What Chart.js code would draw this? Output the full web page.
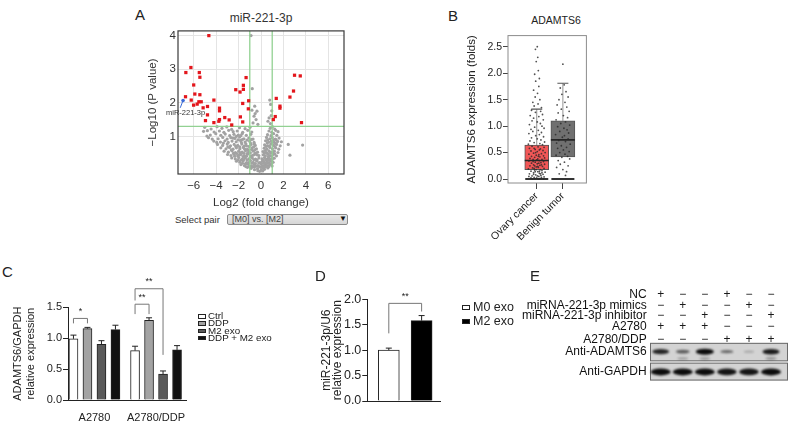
<!DOCTYPE html>
<html>
<head>
<meta charset="utf-8">
<script src="https://cdn.jsdelivr.net/npm/chart.js@4.4.1/dist/chart.umd.min.js"></script>
<style>
  html, body { margin: 0; padding: 0; background: #fff; }
  body { width: 790px; height: 422px; position: relative; overflow: hidden;
         font-family: "Liberation Sans", Arial, Helvetica, sans-serif; color: #222; }
  .t { position: absolute; white-space: nowrap; line-height: 1; }
  .key { position: absolute; border: 1px solid #222; box-sizing: border-box; }
</style>
</head>
<body>
<script>
// ---------- A: volcano plot ----------
const volcanoSig = [[-4.65,4.0],[-6.25,3.05],[-6.7,2.9],[-5.5,2.9],[-5.45,2.76],[-6.0,2.53],
  [-1.33,2.75],[-1.57,2.52],[-1.57,2.4],[-2.25,2.39],[-1.87,2.32],[-6.73,2.18],[-5.9,2.26],
  [-5.45,2.24],[-4.2,2.08],[-6.22,2.08],[-5.54,2.03],[-5.33,2.03],[-5.69,1.96],[-6.01,1.93],
  [-5.16,1.85],[-4.77,1.89],[-3.7,1.84],[-3.7,1.76],[-1.1,2.06],[-1.63,1.98],[-1.13,1.82],
  [-4.77,1.64],[-1.84,1.58],[-3.23,1.56],[-4.95,1.47],[-3.7,1.5],[-2.84,1.49],[-4.2,1.41],
  [-3.76,1.45],[-2.61,1.34],[-1.63,1.43],
  [2.99,2.82],[3.5,2.8],[2.9,2.35],[2.58,2.17],[1.36,2.13],[1.69,1.9],[1.69,1.84],
  [1.27,1.59],[1.1,1.5],[3.61,1.41]];
const volcanoNs = [
  [-5.02,1.27],[-4.45,1.22],[-3.92,1.29],[-3.48,1.24],[-3.05,1.28],[-2.62,1.21],[-1.92,1.26],[-1.42,1.23],[-0.98,1.27],[0.82,1.24],[1.02,1.29],[1.22,1.22],
  [-4.78,1.17],[-4.18,1.13],[-3.71,1.16],[-3.31,1.12],[-2.88,1.18],[-2.48,1.14],[-2.12,1.16],[-1.63,1.12],[-1.18,1.18],[-0.82,1.13],[0.71,1.16],[0.96,1.12],[1.31,1.18],[1.52,1.14],
  [-4.52,1.04],[-4.03,1.08],[-3.58,1.03],[-3.19,1.07],[-2.79,1.02],[-2.41,1.06],[-2.02,1.04],[-1.68,1.08],[-1.31,1.03],[-0.91,1.06],[0.58,1.05],[0.89,1.02],[1.12,1.08],[1.41,1.03],
  [-4.68,0.96],[-3.82,0.93],[-3.41,0.97],[-3.02,0.92],[-2.69,0.96],[-2.33,0.94],[-1.91,0.98],[-1.52,0.93],[-1.09,0.95],[-0.71,0.92],[0.49,0.97],[0.79,0.93],[1.01,0.96],[1.28,0.92],[1.61,0.95],
  [-4.21,0.86],[-3.62,0.83],[-3.21,0.87],[-2.92,0.82],[-2.58,0.86],[-2.21,0.84],[-1.83,0.88],[-1.42,0.83],[-1.02,0.86],[-0.62,0.82],[0.41,0.87],[0.68,0.83],[0.92,0.86],[1.19,0.82],[1.48,0.85],[1.82,0.84],
  [-3.88,0.76],[-3.42,0.73],[-3.01,0.77],[-2.72,0.72],[-2.39,0.76],[-2.08,0.73],[-1.71,0.77],[-1.29,0.72],[-0.88,0.76],[-0.51,0.73],[0.32,0.75],[0.61,0.72],[0.88,0.77],[1.12,0.73],[1.39,0.76],[1.71,0.72],[2.43,0.76],[3.71,0.74],
  [-3.58,0.66],[-3.12,0.63],[-2.81,0.67],[-2.49,0.62],[-2.19,0.66],[-1.88,0.63],[-1.58,0.67],[-1.21,0.62],[-0.79,0.66],[-0.41,0.63],[0.28,0.65],[0.52,0.62],[0.79,0.67],[1.02,0.63],[1.31,0.66],[1.58,0.62],
  [-3.29,0.56],[-2.91,0.53],[-2.59,0.57],[-2.28,0.52],[-1.99,0.56],[-1.69,0.53],[-1.38,0.57],[-1.09,0.52],[-0.69,0.56],[-0.31,0.53],[0.18,0.55],[0.48,0.52],[0.71,0.57],[0.92,0.53],[1.19,0.56],[1.51,0.52],
  [-2.98,0.46],[-2.68,0.43],[-2.39,0.47],[-2.08,0.42],[-1.79,0.46],[-1.49,0.43],[-1.19,0.47],[-0.88,0.42],[-0.58,0.46],[-0.19,0.43],[0.21,0.45],[0.39,0.42],[0.62,0.47],[0.81,0.43],[1.09,0.46],[1.38,0.42],[2.58,0.44],
  [-2.61,0.36],[-2.29,0.33],[-1.98,0.37],[-1.69,0.32],[-1.39,0.36],[-1.08,0.33],[-0.79,0.37],[-0.49,0.32],[-0.18,0.36],[0.09,0.33],[0.31,0.37],[0.52,0.32],[0.69,0.36],[0.91,0.33],[1.18,0.35],
  [-2.19,0.26],[-1.88,0.23],[-1.59,0.27],[-1.28,0.22],[-0.98,0.26],[-0.69,0.23],[-0.39,0.27],[-0.09,0.22],[0.12,0.26],[0.29,0.23],[0.51,0.27],[0.68,0.22],[0.89,0.26],[1.08,0.23],
  [-1.79,0.16],[-1.48,0.13],[-1.19,0.17],[-0.89,0.12],[-0.61,0.16],[-0.29,0.13],[0.01,0.17],[0.19,0.12],[0.41,0.16],[0.59,0.13],[0.79,0.16],[0.99,0.12],
  [-1.21,0.08],[-0.88,0.05],[-0.59,0.09],[-0.31,0.04],[-0.02,0.08],[0.21,0.05],[0.39,0.09],[0.61,0.06],
  [-0.58,0.01],[-0.28,-0.02],[0.02,0.0],[0.31,0.02],[-0.12,-0.04],[0.15,-0.03],
  [-2.05,0.9],[-1.65,0.91],[-1.25,0.89],[-0.85,0.91],[0.6,0.9],[1.1,0.89],[1.35,0.9],
  [-2.25,0.7],[-1.9,0.69],[-1.5,0.71],[-1.05,0.7],[-0.65,0.69],[0.45,0.7],[0.75,0.71],[1.25,0.69],
  [-2.45,0.5],[-2.15,0.49],[-1.85,0.51],[-1.55,0.5],[-1.25,0.49],[-0.95,0.51],[-0.5,0.5],[0.3,0.5],[0.6,0.49],[0.85,0.51],[1.05,0.5],
  [-2.05,0.3],[-1.8,0.29],[-1.55,0.31],[-1.25,0.3],[-0.95,0.29],[-0.65,0.31],[-0.35,0.3],[0.2,0.29],[0.42,0.31],[0.62,0.3],[0.8,0.29],[1.0,0.31],
  [-1.65,0.2],[-1.38,0.19],[-1.1,0.21],[-0.8,0.2],[-0.5,0.19],[-0.2,0.21],[0.05,0.2],[0.3,0.19],[0.52,0.21],[0.72,0.2],[0.95,0.19],
  [-1.35,0.1],[-1.05,0.11],[-0.75,0.1],[-0.45,0.11],[-0.15,0.1],[0.1,0.11],[0.3,0.1],[0.5,0.11],[0.7,0.1],
  [-3.35,0.8],[-2.95,0.69],[-2.65,0.6],[-2.35,0.41],[-1.95,0.44],[-1.6,0.4],[-1.3,0.41],[-0.95,0.39],[-0.7,0.44],
  [-1.45,0.62],[-1.15,0.58],[-0.85,0.61],[-0.55,0.6],[-0.35,0.45],[0.38,0.58],[0.65,0.4],[0.95,0.41],[1.22,0.48],
  [-1.75,0.82],[-1.35,0.78],[-0.95,0.81],[-0.6,0.78],[0.55,0.8],[0.98,0.82],[1.3,0.79],[-2.5,0.95],[-2.2,1.0],[-1.8,1.02],
  [-0.89,4.0],[-0.78,2.42],[0.78,2.08],[0.86,1.95],[-0.56,1.9],[-0.36,1.75],[-0.62,1.6],[-0.44,1.5],
  [-0.71,1.4],[0.62,1.45],[0.91,1.62],[-0.28,1.36],[0.96,1.76],[0.72,1.55],[-0.81,1.78],[-0.52,1.68],[0.84,1.38],
  [-5.12,1.15],[-4.82,1.01],[-4.35,0.92],[-3.95,0.82]];
const volcanoHighlight = [[-6.95, 2.07]];
const volcanoPointer = [[-7.2, 1.85], [-6.95, 2.07]];
const foldCutoffs = [-1, 1];
const pCutoff = 1.3;
const volcanoXTicks = [-6, -4, -2, 0, 2, 4, 6];
const volcanoYTicks = [1, 2, 3, 4];

// ---------- B: box plot ----------
const boxGroups = ['Ovary cancer', 'Benign tumor'];
const boxQ1 = [0.18, 0.42];
const boxMedian = [0.35, 0.74];
const boxQ3 = [0.64, 1.10];
const boxLow = [0, 0];
const boxHigh = [1.32, 1.81];
const boxYTicks = [0, 0.5, 1.0, 1.5, 2.0, 2.5];
const ovaryPoints = [[0.02,2.5],[-0.05,2.45],[0.04,2.3],[-0.02,2.22],[0.06,2.05],[-0.08,1.98],[0.1,1.9],[-0.04,1.85],
  [0.08,1.75],[-0.12,1.68],[0.03,1.62],[-0.06,1.55],[0.12,1.5],[-0.15,1.45],[0.05,1.42],[-0.1,1.38],[0.18,1.35],
  [-0.2,1.3],[0.15,1.28],[-0.05,1.26],[0.22,1.22],[-0.25,1.2],[0.08,1.18],[-0.12,1.15],[0.25,1.12],[-0.18,1.1],
  [0.02,1.08],[0.14,1.05],[-0.28,1.03],[0.2,1.0],[-0.08,0.98],[0.28,0.96],[-0.22,0.94],[0.06,0.92],[-0.15,0.9],
  [0.18,0.88],[-0.3,0.86],[0.1,0.84],[-0.04,0.82],[0.26,0.8],[-0.2,0.78],[0.02,0.76],[0.16,0.74],[-0.26,0.72],
  [0.3,0.7],[-0.1,0.69],[0.12,0.67],[-0.32,0.66],[0.22,0.65],
  [-0.18,0.62],[0.05,0.61],[0.28,0.6],[-0.28,0.58],[0.14,0.57],[-0.06,0.56],[0.24,0.54],[-0.22,0.53],[0.02,0.52],
  [0.32,0.5],[-0.12,0.49],[0.18,0.48],[-0.3,0.47],[0.08,0.46],[-0.02,0.45],[0.26,0.44],[-0.2,0.43],[0.12,0.42],
  [-0.08,0.41],[0.3,0.4],[-0.26,0.39],[0.04,0.38],[0.2,0.37],[-0.14,0.37],
  [0.1,0.35],[-0.3,0.34],[0.26,0.33],[-0.06,0.32],[0.16,0.31],[-0.2,0.3],[0.02,0.29],[0.3,0.28],[-0.12,0.27],
  [0.12,0.26],[-0.26,0.25],[0.22,0.24],[-0.02,0.23],[0.06,0.22],[-0.16,0.21],[0.28,0.2],[-0.32,0.19],[0.14,0.18],
  [-0.08,0.17],[0.2,0.16],[-0.22,0.15],[0.04,0.14],[0.32,0.13],[-0.12,0.12],[0.1,0.11],[-0.28,0.1],[0.24,0.09],
  [-0.04,0.08],[0.16,0.07],[-0.18,0.06],[0.08,0.05],[-0.3,0.05],[0.28,0.04],[-0.1,0.03],[0.18,0.03],[0.0,0.02],
  [-0.22,0.02],[0.12,0.01],[-0.06,0.01],[0.26,0.0],[-0.16,0.0],[0.06,0.0],
  [-0.1,0.58],[0.1,0.55],[-0.04,0.5],[0.06,0.43],[-0.14,0.33],[0.0,0.36],[0.08,0.3],[-0.08,0.25],[0.18,0.27],
  [-0.02,0.18],[0.1,0.15],[-0.12,0.09],[0.02,0.06],[0.14,0.1],[-0.06,0.14],[0.04,0.24],[-0.1,0.2],[0.2,0.12]];
const benignPoints = [[0.0,2.17],[0.05,1.78],[-0.1,1.72],[0.12,1.65],[-0.04,1.6],[0.2,1.55],[-0.15,1.5],[0.08,1.45],
  [-0.22,1.4],[0.15,1.36],[-0.06,1.32],[0.24,1.28],[-0.18,1.25],[0.02,1.2],[0.18,1.16],[-0.26,1.12],[0.1,1.08],
  [-0.08,1.05],[0.26,1.02],[-0.2,0.99],[0.04,0.96],[0.16,0.93],[-0.12,0.9],[0.22,0.87],[-0.28,0.84],[0.06,0.82],
  [-0.02,0.79],[0.2,0.76],[-0.16,0.73],[0.1,0.71],[-0.24,0.68],[0.28,0.66],[-0.06,0.63],[0.14,0.6],[-0.2,0.58],
  [0.02,0.55],[0.24,0.52],[-0.12,0.5],[0.08,0.47],[-0.26,0.45],[0.18,0.43],[-0.04,0.41],[0.26,0.38],[-0.18,0.35],
  [0.06,0.32],[-0.1,0.28],[0.2,0.25],[-0.24,0.22],[0.0,0.18],[0.14,0.14],[-0.14,0.1],[0.1,0.07]];

// ---------- C: ADAMTS6 bars ----------
const cGroups = ['A2780', 'A2780/DDP'];
const cSeries = ['Ctrl', 'DDP', 'M2 exo', 'DDP + M2 exo'];
const cCtrl = [0.99, 0.80];
const cDDP = [1.155, 1.29];
const cM2 = [0.90, 0.42];
const cDDPM2 = [1.14, 0.81];
const cCtrlErr = [0.06, 0.07];
const cDDPErr = [0.02, 0.04];
const cM2Err = [0.06, 0.05];
const cDDPM2Err = [0.07, 0.07];
const cYTicks = [0, 0.5, 1.0, 1.5];
// [series, group] pairs, bracket top, leg ends, label
const cBrackets = [
  { a: [0, 0], b: [1, 0], top: 1.32, legA: 1.24, legB: 1.24, label: '*' },
  { a: [0, 1], b: [1, 1], top: 1.55, legA: 1.39, legB: 1.39, label: '**' },
  { a: [0, 1], b: [2, 1], top: 1.80, legA: 1.61, legB: 0.73, label: '**' }
];

// ---------- D: miR-221-3p bars ----------
const dGroups = ['M0 exo', 'M2 exo'];
const dValues = [1.0, 1.58];
const dErr = [0.04, 0.1];
const dYTicks = [0, 0.5, 1.0, 1.5, 2.0];
const dBracket = { top: 1.92, legA: 1.33, legB: 1.76, label: '**' };

// ---------- E: western blot ----------
const eRows = ['NC', 'miRNA-221-3p mimics', 'miRNA-221-3p inhibitor', 'A2780', 'A2780/DDP'];
const eNC        = ['+', '−', '−', '+', '−', '−'];
const eMimics    = ['−', '+', '−', '−', '+', '−'];
const eInhibitor = ['−', '−', '+', '−', '−', '+'];
const eA2780     = ['+', '+', '+', '−', '−', '−'];
const eA2780DDP  = ['−', '−', '−', '+', '+', '+'];
const eBlots = ['Anti-ADAMTS6', 'Anti-GAPDH'];
const adamts6Band = [0.85, 0.5, 1.0, 0.42, 0.1, 0.9];
const adamts6Lower = [0.0, 0.15, 0.18, 0.0, 0.0, 0.2];
const gapdhBand = [1.0, 1.0, 1.0, 0.95, 0.95, 1.0];

// ---------- common ----------
Chart.defaults.font.family = '"Liberation Sans", Arial, Helvetica, sans-serif';
Chart.defaults.color = '#222';
Chart.defaults.animation = false;
Chart.defaults.events = [];
Chart.defaults.plugins.legend.display = false;
Chart.defaults.plugins.tooltip.enabled = false;

function mount(left, top, w, h) {
  const c = document.createElement('canvas');
  c.width = w; c.height = h;
  c.style.cssText = `position:absolute;left:${left}px;top:${top}px;width:${w}px;height:${h}px`;
  document.body.appendChild(c);
  return c;
}
function text(str, left, top, size, css) {
  const d = document.createElement('div');
  d.className = 't';
  d.textContent = str;
  d.style.cssText = `left:${left}px;top:${top}px;font-size:${size}px;` + (css || '');
  document.body.appendChild(d);
  return d;
}
function frame(color, width) {
  return {
    id: 'frame',
    afterDatasetsDraw(chart) {
      const { ctx, chartArea: a } = chart;
      ctx.save();
      ctx.strokeStyle = color; ctx.lineWidth = width;
      ctx.strokeRect(a.left, a.top, a.right - a.left, a.bottom - a.top);
      ctx.restore();
    }
  };
}
const errorBars = {
  id: 'errorBars',
  afterDatasetsDraw(chart) {
    const { ctx } = chart; const ys = chart.scales.y;
    ctx.save(); ctx.strokeStyle = '#222'; ctx.lineWidth = 1;
    chart.data.datasets.forEach((ds, i) => {
      if (!ds.errors) return;
      chart.getDatasetMeta(i).data.forEach((bar, j) => {
        const top = ys.getPixelForValue(ds.data[j].y + ds.errors[j]);
        ctx.beginPath();
        ctx.moveTo(bar.x, bar.y); ctx.lineTo(bar.x, top);
        ctx.moveTo(bar.x - 3, top); ctx.lineTo(bar.x + 3, top);
        ctx.stroke();
      });
    });
    ctx.restore();
  }
};
function brackets(items, starSize) {
  return {
    id: 'brackets',
    afterDatasetsDraw(chart) {
      const { ctx } = chart; const ys = chart.scales.y;
      ctx.save();
      ctx.strokeStyle = '#777'; ctx.lineWidth = 1;
      ctx.fillStyle = '#222'; ctx.font = `${starSize}px "Liberation Sans", Arial`;
      ctx.textAlign = 'center'; ctx.textBaseline = 'middle';
      items.forEach(b => {
        const xa = chart.getDatasetMeta(b.a[0]).data[b.a[1]].x;
        const xb = chart.getDatasetMeta(b.b[0]).data[b.b[1]].x;
        const yt = ys.getPixelForValue(b.top);
        ctx.beginPath();
        ctx.moveTo(xa, ys.getPixelForValue(b.legA));
        ctx.lineTo(xa, yt); ctx.lineTo(xb, yt);
        ctx.lineTo(xb, ys.getPixelForValue(b.legB));
        ctx.stroke();
        ctx.fillText(b.label, (xa + xb) / 2, yt - 7);
      });
      ctx.restore();
    }
  };
}
const pts = arr => arr.map(([x, y]) => ({ x, y }));
const fixedTicks = vals => scale => { scale.ticks = vals.map(v => ({ value: v })); };

// ================= A =================
text('A', 135, 7, 15);
text('miR-221-3p', 211, 12.4, 12, 'width:100px;text-align:center;color:#333;');
new Chart(mount(130, 22, 222, 190), {
  type: 'scatter',
  data: {
    datasets: [
      { data: pts(volcanoSig), pointStyle: 'rect', pointRadius: 2.3, backgroundColor: '#e3161c', borderWidth: 0 },
      { data: pts(volcanoHighlight), pointRadius: 1.8, backgroundColor: '#3a6bd8', borderWidth: 0 },
      { data: pts(volcanoPointer), showLine: true, borderColor: '#3a6bd8', borderWidth: 1, pointRadius: 0 },
      ...foldCutoffs.map(v => ({ data: [{ x: v, y: -1 }, { x: v, y: 5 }], showLine: true,
        borderColor: '#92d192', borderWidth: 1.3, pointRadius: 0 })),
      { data: [{ x: -8, y: pCutoff }, { x: 8, y: pCutoff }], showLine: true,
        borderColor: '#92d192', borderWidth: 1.3, pointRadius: 0 },
      { data: pts(volcanoNs), pointRadius: 1.6, backgroundColor: '#a2a2a2', borderWidth: 0 }
    ]
  },
  options: {
    responsive: false,
    layout: { padding: { top: 7, right: 8, left: 0, bottom: 0 } },
    scales: {
      x: {
        type: 'linear', min: -7.4, max: 7.4,
        afterBuildTicks: fixedTicks(volcanoXTicks),
        ticks: { autoSkip: false, padding: 5, color: '#333', font: { size: 11.5 },
                 callback: v => String(v).replace('-', '−') },
        grid: { color: '#e4e4e4', drawTicks: false },
        border: { display: false },
        title: { display: true, text: 'Log2 (fold change)', color: '#333', font: { size: 11.5 },
                 padding: { top: 0, bottom: 2.5 } },
        afterFit: s => { s.height = 38; }
      },
      y: {
        type: 'linear', min: -0.12, max: 4.14,
        afterBuildTicks: fixedTicks(volcanoYTicks),
        ticks: { autoSkip: false, padding: 2, color: '#333', font: { size: 11.5 } },
        grid: { color: '#e4e4e4', drawTicks: false },
        border: { display: false },
        title: { display: true, text: '−Log10 (P value)', color: '#333', font: { size: 11.5 },
                 padding: { top: 15.5, bottom: 0 } },
        afterFit: s => { s.width = 48; }
      }
    }
  },
  plugins: [frame('#3a3a3a', 1.2)]
});
text('miR-221-3p', 166, 108.5, 7.5, 'color:#333;');
text('Select pair', 175, 214.5, 9.5, 'color:#333;');
(function () {
  const d = document.createElement('div');
  d.style.cssText = 'position:absolute;left:227px;top:213.5px;width:121px;height:11px;box-sizing:border-box;' +
    'border:1px solid #8a8a8a;border-radius:2px;background:linear-gradient(#e8e8e8,#d6d6d6);';
  document.body.appendChild(d);
})();
text('[M0] vs. [M2]', 232, 214.8, 9, 'color:#444;');
text('▼', 339, 215, 8, 'color:#111;');

// ================= B =================
text('B', 448, 8, 15);
text('ADAMTS6', 506, 14.9, 10.5, 'width:100px;text-align:center;');
new Chart(mount(440, 22, 160, 236), {
  type: 'scatter',
  data: {
    datasets: [
      { data: [...ovaryPoints.map(([dx, y]) => ({ x: 0 + dx, y })), ...benignPoints.map(([dx, y]) => ({ x: 1 + dx, y }))],
        pointRadius: 0.9, backgroundColor: 'rgba(40,40,40,0.8)', borderWidth: 0 },
      { data: boxGroups.map((g, i) => ({ x: i, y: boxMedian[i] })), pointStyle: 'line', pointRadius: 12,
        pointBorderColor: '#262626', pointBorderWidth: 1.6 },
      { data: boxGroups.map((g, i) => ({ x: i, y: boxHigh[i] })), pointStyle: 'line', pointRadius: 5.5,
        pointBorderColor: '#555', pointBorderWidth: 1.2 },
      { data: boxGroups.map((g, i) => ({ x: i, y: boxLow[i] })), pointStyle: 'line', pointRadius: 11.5,
        pointBorderColor: '#333', pointBorderWidth: 2 },
      ...boxGroups.map((g, i) => ({ data: [{ x: i, y: boxQ3[i] }, { x: i, y: boxHigh[i] }], showLine: true,
        borderColor: '#777', borderWidth: 0.8, pointRadius: 0 })),
      { type: 'bar', data: boxGroups.map((g, i) => ({ x: i, y: [boxQ1[i], boxQ3[i]] })),
        backgroundColor: ['#f25757', '#707070'], borderColor: '#555', borderWidth: 1,
        borderSkipped: false, barThickness: 24, grouped: false }
    ]
  },
  options: {
    responsive: false,
    layout: { padding: { top: 9.7, right: 5, left: 0, bottom: 0 } },
    scales: {
      x: {
        type: 'linear', min: -1.1, max: 1.9, offset: false,
        afterBuildTicks: fixedTicks([0, 1]),
        ticks: { autoSkip: false, minRotation: 45, maxRotation: 45, padding: 1, font: { size: 10.5 },
                 callback: (v, i) => boxGroups[i] },
        grid: { display: true, drawOnChartArea: false, drawTicks: true, tickLength: 6, color: '#444', offset: false },
        border: { display: false },
        afterFit: s => { s.height = 75; }
      },
      y: {
        type: 'linear', min: -0.074, max: 2.71,
        afterBuildTicks: fixedTicks(boxYTicks),
        ticks: { autoSkip: false, padding: 1, font: { size: 10.5 }, callback: v => v.toFixed(1) },
        grid: { display: true, drawOnChartArea: false, drawTicks: true, tickLength: 5, color: '#444' },
        border: { display: false },
        title: { display: true, text: 'ADAMTS6 expression (folds)', font: { size: 11.5 },
                 padding: { top: 25, bottom: 0 } },
        afterFit: s => { s.width = 68; }
      }
    }
  },
  plugins: [frame('#8c8c8c', 1)]
});

// ================= C =================
text('C', 2, 264, 15);
const cValues = [cCtrl, cDDP, cM2, cDDPM2];
const cErrors = [cCtrlErr, cDDPErr, cM2Err, cDDPM2Err];
const cColors = ['#ffffff', '#a3a3a3', '#5a5a5a', '#111111'];
const cX = (g, i) => g * 4.4 + i;
new Chart(mount(0, 262, 200, 160), {
  type: 'scatter',
  data: {
    datasets: cSeries.map((name, i) => ({
      type: 'bar', label: name,
      data: cGroups.map((g, gi) => ({ x: cX(gi, i), y: cValues[i][gi] })),
      errors: cErrors[i],
      backgroundColor: cColors[i], borderColor: '#222', borderWidth: 1,
      barThickness: 9, grouped: false
    }))
  },
  options: {
    responsive: false,
    layout: { padding: { top: 45.3, right: 14, left: 0, bottom: 0 } },
    scales: {
      x: {
        type: 'linear', min: -0.39, max: 8.04, offset: false,
        afterBuildTicks: fixedTicks([cX(0, 1.5), cX(1, 1.5)]),
        ticks: { autoSkip: false, padding: 3, font: { size: 11 }, callback: (v, i) => cGroups[i] },
        grid: { display: false },
        border: { display: true, color: '#222', width: 1 },
        afterFit: s => { s.height = 22; }
      },
      y: {
        type: 'linear', min: 0, max: 1.5,
        afterBuildTicks: fixedTicks(cYTicks),
        ticks: { autoSkip: false, padding: 1, font: { size: 11 }, callback: v => v.toFixed(1) },
        grid: { display: true, drawOnChartArea: false, drawTicks: true, tickLength: 5, color: '#222' },
        border: { display: true, color: '#222', width: 1 },
        title: { display: true, text: ['ADAMTS6/GAPDH', 'relative expression'],
                 font: { size: 11, lineHeight: 1.14 }, padding: { top: 12, bottom: 0 } },
        afterFit: s => { s.width = 68; }
      }
    }
  },
  plugins: [errorBars, brackets(cBrackets, 9)]
});
cSeries.forEach((name, i) => {
  const y = 316 + i * 7.3;
  const k = document.createElement('div');
  k.className = 'key';
  k.style.cssText += `left:198px;top:${y - 2}px;width:8px;height:4.5px;background:${cColors[i]};`;
  document.body.appendChild(k);
  text(name, 208, y - 4.9, 9.8);
});

// ================= D =================
text('D', 315, 268, 15);
new Chart(mount(290, 262, 165, 160), {
  type: 'scatter',
  data: {
    datasets: [{
      type: 'bar', data: dGroups.map((g, i) => ({ x: i, y: dValues[i] })), errors: dErr,
      backgroundColor: ['#ffffff', '#000000'], borderColor: '#222', borderWidth: 1,
      barThickness: 21, grouped: false
    }]
  },
  options: {
    responsive: false,
    layout: { padding: { top: 37.3, right: 15, left: 0, bottom: 0 } },
    scales: {
      x: {
        type: 'linear', min: -0.655, max: 1.56, offset: false,
        afterBuildTicks: fixedTicks([]),
        ticks: { display: false },
        grid: { display: false },
        border: { display: true, color: '#222', width: 1 },
        afterFit: s => { s.height = 21; }
      },
      y: {
        type: 'linear', min: 0, max: 2.0,
        afterBuildTicks: fixedTicks(dYTicks),
        ticks: { autoSkip: false, padding: 1, font: { size: 12.5 }, callback: v => v.toFixed(1) },
        grid: { display: true, drawOnChartArea: false, drawTicks: true, tickLength: 5, color: '#222' },
        border: { display: true, color: '#222', width: 1 },
        title: { display: true, text: ['miR-221-3p/U6', 'relative expression'],
                 font: { size: 12, lineHeight: 0.95 }, padding: { top: 30.8, bottom: 0 } },
        afterFit: s => { s.width = 77.3; }
      }
    }
  },
  plugins: [errorBars, brackets([{ a: [0, 0], b: [0, 1], ...dBracket }], 9)]
});
[['#ffffff', 307], ['#000000', 321.5]].forEach(([c, y], i) => {
  const k = document.createElement('div');
  k.className = 'key';
  k.style.cssText += `left:462px;top:${y - 2.5}px;width:8px;height:5px;background:${c};`;
  document.body.appendChild(k);
  text(dGroups[i], 473, y - 6.1, 12.5);
});

// ================= E =================
text('E', 530, 268, 15);
// vertical slots of the table rows (layout only)
const E_ROWS = [10, 23.3, 35.7, 49, 64];
const E_BLOT_ROWS = [79, 103.5];
const E_LOWER_ROW = 87.3;
const E_MEMBRANES = [[68.3, 90.7], [92.3, 114]];
const lanes = eNC.map((s, i) => i + 1);
const signRows = [eNC, eMimics, eInhibitor, eA2780, eA2780DDP];
const eLabels = [...eRows, ...eBlots];
const bandSets = [
  { k: adamts6Band, row: E_BLOT_ROWS[0] },
  { k: adamts6Lower, row: E_LOWER_ROW },
  { k: gapdhBand, row: E_BLOT_ROWS[1] }
];
const blotPlugin = {
  id: 'blot',
  beforeDatasetsDraw(chart) {
    const { ctx, scales: { x, y } } = chart;
    ctx.save();
    const xl = x.getPixelForValue(0.515), xr = x.getPixelForValue(6.77);
    E_MEMBRANES.forEach(([a, b]) => {
      const yt = y.getPixelForValue(a), yb = y.getPixelForValue(b);
      ctx.fillStyle = '#d3d3d3';
      ctx.fillRect(xl, yt, xr - xl, yb - yt);
      ctx.strokeStyle = '#6a6a6a'; ctx.lineWidth = 1;
      ctx.strokeRect(xl + 0.5, yt + 0.5, xr - xl - 1, yb - yt - 1);
    });
    chart.data.datasets.forEach((ds, di) => {
      const meta = chart.getDatasetMeta(di);
      if (ds.kind === 'band') {
        meta.data.forEach((pt, j) => {
          const k = ds.k[j];
          if (k <= 0) return;
          const w = ds.wide ? 10 + 10 * k : 9 + 9 * k;
          const h = ds.wide ? 2 + 5 * k : 1.4 + 4.6 * k;
          ctx.filter = 'blur(1.1px)';
          ctx.fillStyle = `rgba(12,12,12,${0.2 + 0.8 * k})`;
          ctx.beginPath();
          ctx.ellipse(pt.x, pt.y, w / 2, h / 2, 0, 0, Math.PI * 2);
          ctx.fill();
          ctx.filter = 'none';
        });
      } else if (ds.kind === 'sign') {
        ctx.fillStyle = '#1a1a1a';
        ctx.font = '12px "Liberation Sans", Arial';
        ctx.textAlign = 'center'; ctx.textBaseline = 'middle';
        meta.data.forEach((pt, j) => ctx.fillText(ds.signs[j], pt.x, pt.y));
      }
    });
    ctx.restore();
  }
};
new Chart(mount(520, 276, 270, 120), {
  type: 'scatter',
  data: {
    datasets: [
      ...signRows.map((row, r) => ({ kind: 'sign', signs: row, pointRadius: 0,
        data: lanes.map(l => ({ x: l, y: E_ROWS[r] })) })),
      ...bandSets.map((b, bi) => ({ kind: 'band', k: b.k, wide: bi === 2, pointRadius: 0,
        data: lanes.map(l => ({ x: l, y: b.row })) }))
    ]
  },
  options: {
    responsive: false,
    layout: { padding: 0 },
    scales: {
      x: { type: 'linear', min: 0.515, max: 6.861, display: false },
      y: {
        type: 'linear', min: 0, max: 120, reverse: true,
        afterBuildTicks: fixedTicks([...E_ROWS, ...E_BLOT_ROWS]),
        ticks: { autoSkip: false, padding: 3.3, font: { size: 12 }, color: '#111', callback: (v, i) => eLabels[i] },
        grid: { display: false, drawTicks: false },
        border: { display: false },
        afterFit: s => { s.width = 130; }
      }
    }
  },
  plugins: [blotPlugin]
});
</script>
</body>
</html>
